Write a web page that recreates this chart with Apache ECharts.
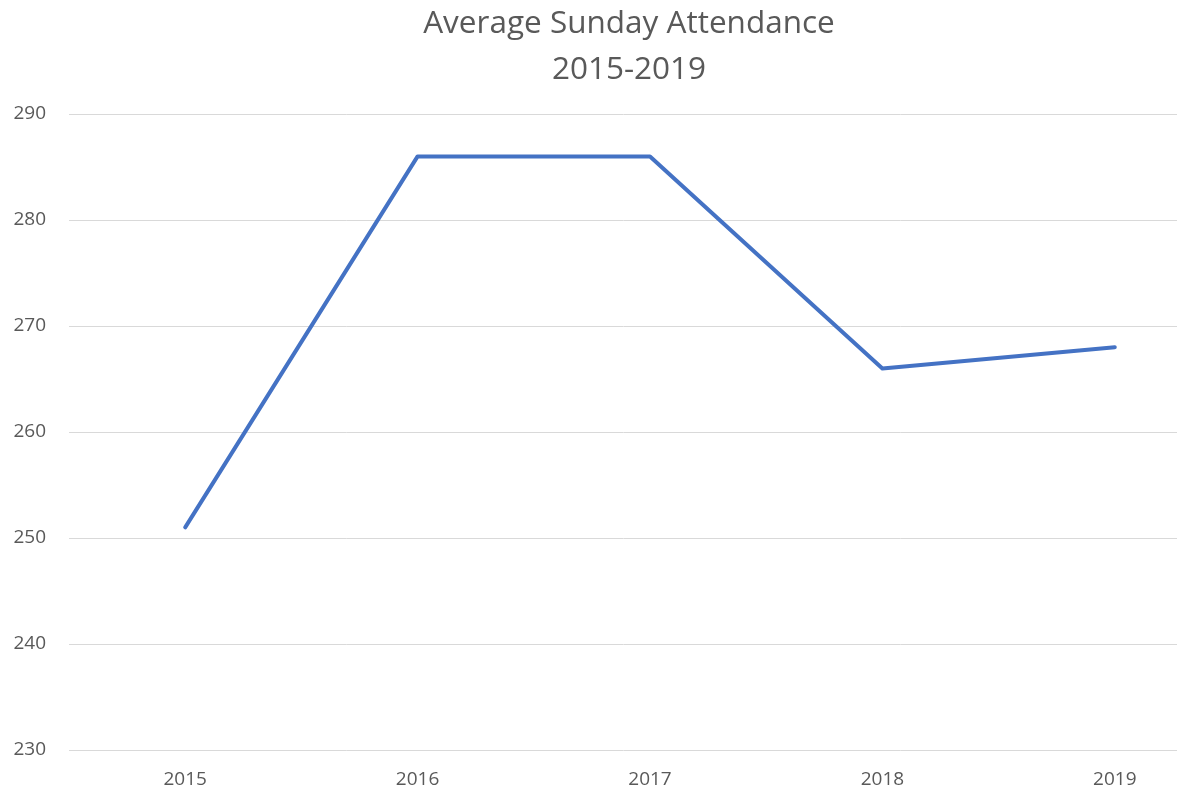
<!DOCTYPE html>
<html>
<head>
<meta charset="utf-8">
<script src="https://cdn.jsdelivr.net/npm/echarts@6/dist/echarts.min.js"></script>
<style>
  html, body { margin: 0; padding: 0; background: #fff; }
  #chart { width: 1177px; height: 790px; }
</style>
</head>
<body>
<div id="chart"></div>
<script>
// 数据
const years = ['2015', '2016', '2017', '2018', '2019']
const attendance = [251, 286, 286, 266, 268]
const yTicks = [230, 240, 250, 260, 270, 280, 290]

const chart = echarts.init(document.getElementById('chart'))
const font = '"Open Sans", "Liberation Sans", sans-serif'

chart.setOption({
  animation: false,
  title: {
    text: 'Average Sunday Attendance\n2015-2019',
    left: 624,
    top: -4,
    textAlign: 'center',
    textStyle: {
      color: '#595959',
      fontFamily: font,
      fontWeight: 'normal',
      fontSize: 31.5,
      lineHeight: 46
    }
  },
  // 右侧被裁掉一部分，和原图一致
  grid: {
    left: 69,
    top: 114,
    right: -54,
    height: 636,
    outerBoundsMode: 'none'
  },
  xAxis: {
    type: 'category',
    data: years,
    boundaryGap: true,
    axisLine: { show: false },
    axisTick: { show: false },
    axisLabel: {
      color: '#595959',
      fontFamily: font,
      fontSize: 19,
      margin: 20
    }
  },
  yAxis: {
    type: 'value',
    min: yTicks[0],
    max: yTicks[yTicks.length - 1],
    interval: 10,
    axisLine: { show: false },
    axisTick: { show: false },
    axisLabel: {
      color: '#595959',
      fontFamily: font,
      fontSize: 19,
      margin: 23
    },
    splitLine: { lineStyle: { color: '#d9d9d9', width: 1 } }
  },
  series: [
    {
      type: 'line',
      data: attendance,
      symbol: 'none',
      lineStyle: { color: '#4472C4', width: 4, cap: 'round', join: 'round' }
    }
  ]
})
</script>
</body>
</html>
